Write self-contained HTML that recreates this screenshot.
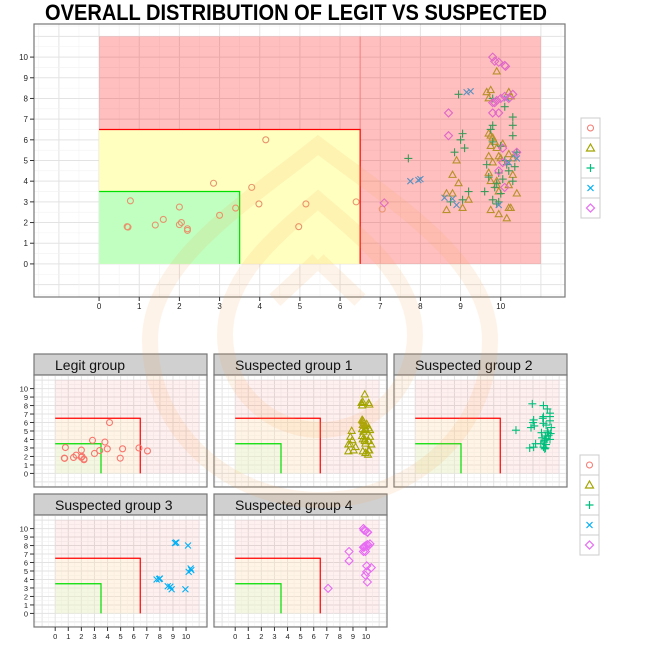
<!DOCTYPE html>
<html><head><meta charset="utf-8"><style>body{margin:0;background:#fff}svg{display:block}</style></head>
<body>
<svg id="s" width="647" height="660" xmlns="http://www.w3.org/2000/svg" font-family="Liberation Sans, sans-serif"></svg>
<script>
const S=document.getElementById('s');let h='';
const X0=-1.62,X1=11.6,Y0=-1.6,Y1=11.6;
const legit=[[0.7,1.8],[0.72,1.78],[0.78,3.05],[1.4,1.88],[1.6,2.15],[2.0,2.75],[2.0,1.9],[2.05,2.0],[2.2,1.7],[2.2,1.62],[3.0,2.35],[3.4,2.7],[2.85,3.9],[3.8,3.7],[4.15,6.0],[3.98,2.9],[5.15,2.9],[4.97,1.8],[6.4,3.0],[7.05,2.65]];
const g4=[[7.1,2.95],[8.7,7.3],[8.7,6.2],[9.8,10],[9.85,9.8],[9.95,9.75],[10.1,9.6],[10.12,9.55],[9.8,7.8],[9.9,7.9],[10.0,8.0],[10.1,8.1],[10.2,8.0],[10.3,8.2],[9.8,7.3],[9.95,7.3],[10.05,5.6],[9.95,4.5],[10.4,5.4],[10.1,3.7],[10.05,4.9],[9.85,7.8]];
const g3=[[7.75,4.0],[7.95,4.05],[8.0,4.1],[9.15,8.3],[9.25,8.35],[8.6,3.2],[8.8,3.15],[8.9,2.85],[9.95,2.85],[10.15,8.0],[10.35,5.3],[10.4,5.1],[10.2,4.9]];
const g1=[[9.9,9.3],[9.65,8.3],[9.75,8.4],[9.7,8.0],[10.2,8.3],[10.25,8.1],[9.7,6.3],[9.8,6.1],[9.75,6.2],[9.85,5.9],[9.75,5.7],[10.05,5.8],[10.2,5.3],[9.7,5.2],[9.95,5.2],[10.3,5.1],[9.7,4.4],[9.75,4.0],[9.9,4.0],[8.8,4.3],[8.95,3.9],[8.65,3.4],[8.8,3.4],[9.2,3.1],[9.05,2.7],[8.65,2.6],[9.75,2.6],[9.95,2.4],[10.2,2.7],[10.15,2.2],[10.25,2.7],[10.4,3.4],[10.2,3.8],[9.95,3.5],[9.9,3.8],[10.0,5.1],[9.9,5.6],[10.3,4.3],[8.9,5.0],[9.8,4.9]];
const g2=[[7.7,5.1],[8.95,8.2],[9.8,8.0],[10.1,7.6],[10.3,7.1],[10.3,6.7],[10.3,6.2],[9.8,6.7],[9.75,6.5],[9.0,6.0],[9.05,6.3],[9.1,5.6],[8.85,5.4],[10.0,5.7],[10.1,5.0],[9.65,4.8],[10.4,5.4],[10.15,4.8],[10.2,4.5],[9.95,4.4],[10.05,4.1],[9.7,4.2],[9.9,3.9],[9.85,3.7],[9.2,3.5],[9.05,3.1],[9.6,3.5],[9.8,3.1],[9.9,2.9],[9.95,3.0],[8.75,3.0],[10.0,3.4],[10.35,4.7],[9.8,5.9],[10.3,4.0]];
function panel(px,py,pw,ph,opt){
 const sx=v=>px+(v-X0)/(X1-X0)*pw, sy=v=>py+ph-(v-Y0)/(Y1-Y0)*ph;
 let o=`<rect x="${px}" y="${py}" width="${pw}" height="${ph}" fill="#fff"/>`;
 for(let v=-1.5;v<=11.5;v+=0.5){const mj=Number.isInteger(v);
  o+=`<line x1="${sx(v)}" x2="${sx(v)}" y1="${py}" y2="${py+ph}" stroke="${mj?'#e3e3e3':'#f2f2f2'}" stroke-width="${mj?1:0.6}"/>`;
  o+=`<line y1="${sy(v)}" y2="${sy(v)}" x1="${px}" x2="${px+pw}" stroke="${mj?'#e3e3e3':'#f2f2f2'}" stroke-width="${mj?1:0.6}"/>`;}
 const a=opt.main?0.25:0.06;
 o+=`<rect x="${sx(0)}" y="${sy(11)}" width="${sx(11)-sx(0)}" height="${sy(0)-sy(11)}" fill="rgba(255,0,0,${a})"/>`;
 o+=`<rect x="${sx(0)}" y="${sy(6.5)}" width="${sx(6.5)-sx(0)}" height="${sy(0)-sy(6.5)}" fill="${opt.main?'#ffffc0':'rgba(255,255,210,0.3)'}"/>`;
 o+=`<rect x="${sx(0)}" y="${sy(3.5)}" width="${sx(3.5)-sx(0)}" height="${sy(0)-sy(3.5)}" fill="${opt.main?'#c0ffc0':'rgba(210,255,210,0.25)'}"/>`;
 if(opt.main)o+=`<line x1="${sx(6.5)}" x2="${sx(6.5)}" y1="${sy(11)}" y2="${sy(6.5)}" stroke="#f08080" stroke-width="1"/>`;
 o+=`<polyline points="${sx(0)},${sy(6.5)} ${sx(6.5)},${sy(6.5)} ${sx(6.5)},${sy(0)}" fill="none" stroke="#f00" stroke-width="1.2"/>`;
 o+=`<polyline points="${sx(0)},${sy(3.5)} ${sx(3.5)},${sy(3.5)} ${sx(3.5)},${sy(0)}" fill="none" stroke="#0d0" stroke-width="1.2"/>`;
 const r=3;
 for(const [d,c,sh] of opt.pts){for(const [x,y] of d){const X=sx(x),Y=sy(y);
  if(sh=='o')o+=`<circle cx="${X}" cy="${Y}" r="${r}" fill="none" stroke="${c}" stroke-width="1.1"/>`;
  else if(sh=='t')o+=`<polygon points="${X},${Y-3.8} ${X+3.5},${Y+2.4} ${X-3.5},${Y+2.4}" fill="none" stroke="${c}" stroke-width="1.1"/>`;
  else if(sh=='p')o+=`<path d="M${X-4} ${Y}H${X+4}M${X} ${Y-4}V${Y+4}" stroke="${c}" stroke-width="1.1"/>`;
  else if(sh=='x')o+=`<path d="M${X-3} ${Y-3}L${X+3} ${Y+3}M${X-3} ${Y+3}L${X+3} ${Y-3}" stroke="${c}" stroke-width="1.1"/>`;
  else o+=`<polygon points="${X},${Y-4} ${X+4},${Y} ${X},${Y+4} ${X-4},${Y}" fill="none" stroke="${c}" stroke-width="1.1"/>`;}}
 o+=`<rect x="${px}" y="${py}" width="${pw}" height="${ph}" fill="none" stroke="#777" stroke-width="1.2"/>`;
 const fs=opt.main?8:7.5;
 if(opt.yl)for(let v=0;v<=10;v++)o+=`<line x1="${px-4}" x2="${px}" y1="${sy(v)}" y2="${sy(v)}" stroke="#333"/><text x="${px-6}" y="${sy(v)+3}" font-size="${fs}" text-anchor="end" fill="#222">${v}</text>`;
 if(opt.xl)for(let v=0;v<=10;v++)o+=`<line y1="${py+ph}" y2="${py+ph+4}" x1="${sx(v)}" x2="${sx(v)}" stroke="#333"/><text x="${sx(v)}" y="${py+ph+12}" font-size="${fs}" text-anchor="middle" fill="#222">${v}</text>`;
 return o;}
function legend(x,y){let o=`<rect x="${x}" y="${y}" width="19" height="100" fill="#fff" stroke="#ccc"/>`;
 const c=['#F8766D','#A3A500','#00BF7D','#00B0F6','#E76BF3'];
 for(let i=0;i<5;i++){const Y=y+10+i*20,X=x+9.5;o+=`<line x1="${x}" x2="${x+19}" y1="${y+20*(i+1)}" y2="${y+20*(i+1)}" stroke="#ccc"/>`;
  if(i==0)o+=`<circle cx="${X}" cy="${Y}" r="3" fill="none" stroke="${c[0]}"/>`;
  if(i==1)o+=`<polygon points="${X},${Y-4} ${X+4},${Y+3} ${X-4},${Y+3}" fill="none" stroke="${c[1]}" stroke-width="1.2"/>`;
  if(i==2)o+=`<path d="M${X-4} ${Y}H${X+4}M${X} ${Y-4}V${Y+4}" stroke="${c[2]}" stroke-width="1.2"/>`;
  if(i==3)o+=`<path d="M${X-3} ${Y-3}L${X+3} ${Y+3}M${X-3} ${Y+3}L${X+3} ${Y-3}" stroke="${c[3]}" stroke-width="1.2"/>`;
  if(i==4)o+=`<polygon points="${X},${Y-4} ${X+4},${Y} ${X},${Y+4} ${X-4},${Y}" fill="none" stroke="${c[4]}" stroke-width="1.2"/>`;}
 return o;}
h+=`<text x="296" y="20" font-size="22" font-weight="bold" text-anchor="middle" textLength="502" lengthAdjust="spacingAndGlyphs" fill="#000">OVERALL DISTRIBUTION OF LEGIT VS SUSPECTED</text>`;
h+=panel(34,24,531,273,{main:1,yl:1,xl:1,pts:[[legit,'#E8946E','o'],[g1,'#B8902A','t'],[g2,'#3A9A5A','p'],[g3,'#5A90C0','x'],[g4,'#E068C8','d']]});
h+=legend(581,118);
const P=[[34,354,'Legit group',legit,'#F8766D','o',1,0],[214,354,'Suspected group 1',g1,'#A3A500','t',0,0],[394,354,'Suspected group 2',g2,'#00BF7D','p',0,0],[34,494,'Suspected group 3',g3,'#00B0F6','x',1,1],[214,494,'Suspected group 4',g4,'#E76BF3','d',0,1]];
for(const [x,y,t,d,c,sh,yl,xl] of P){h+=`<rect x="${x}" y="${y}" width="173" height="21" fill="#d0d0d0" stroke="#777" stroke-width="1.2"/><text x="${x+21}" y="${y+16}" font-size="14" fill="#111">${t}</text>`;
 h+=panel(x,y+21,173,112,{yl:yl,xl:xl,pts:[[d,c,sh]]});}
h+=legend(580,455);
h+=`<g fill="none" stroke="#f7a050" stroke-opacity="0.13" stroke-width="16">
<path d="M318 145 C250 200 150 260 150 340 A170 160 0 0 0 490 340 C490 260 390 200 318 145Z"/>
<path d="M318 200 C270 240 225 280 225 335 A95 95 0 0 0 415 335 C415 280 365 240 318 200Z"/>
<path d="M318 260 L275 300 M318 260 L360 300"/></g>`;
S.innerHTML=h;
</script>
</body></html>
